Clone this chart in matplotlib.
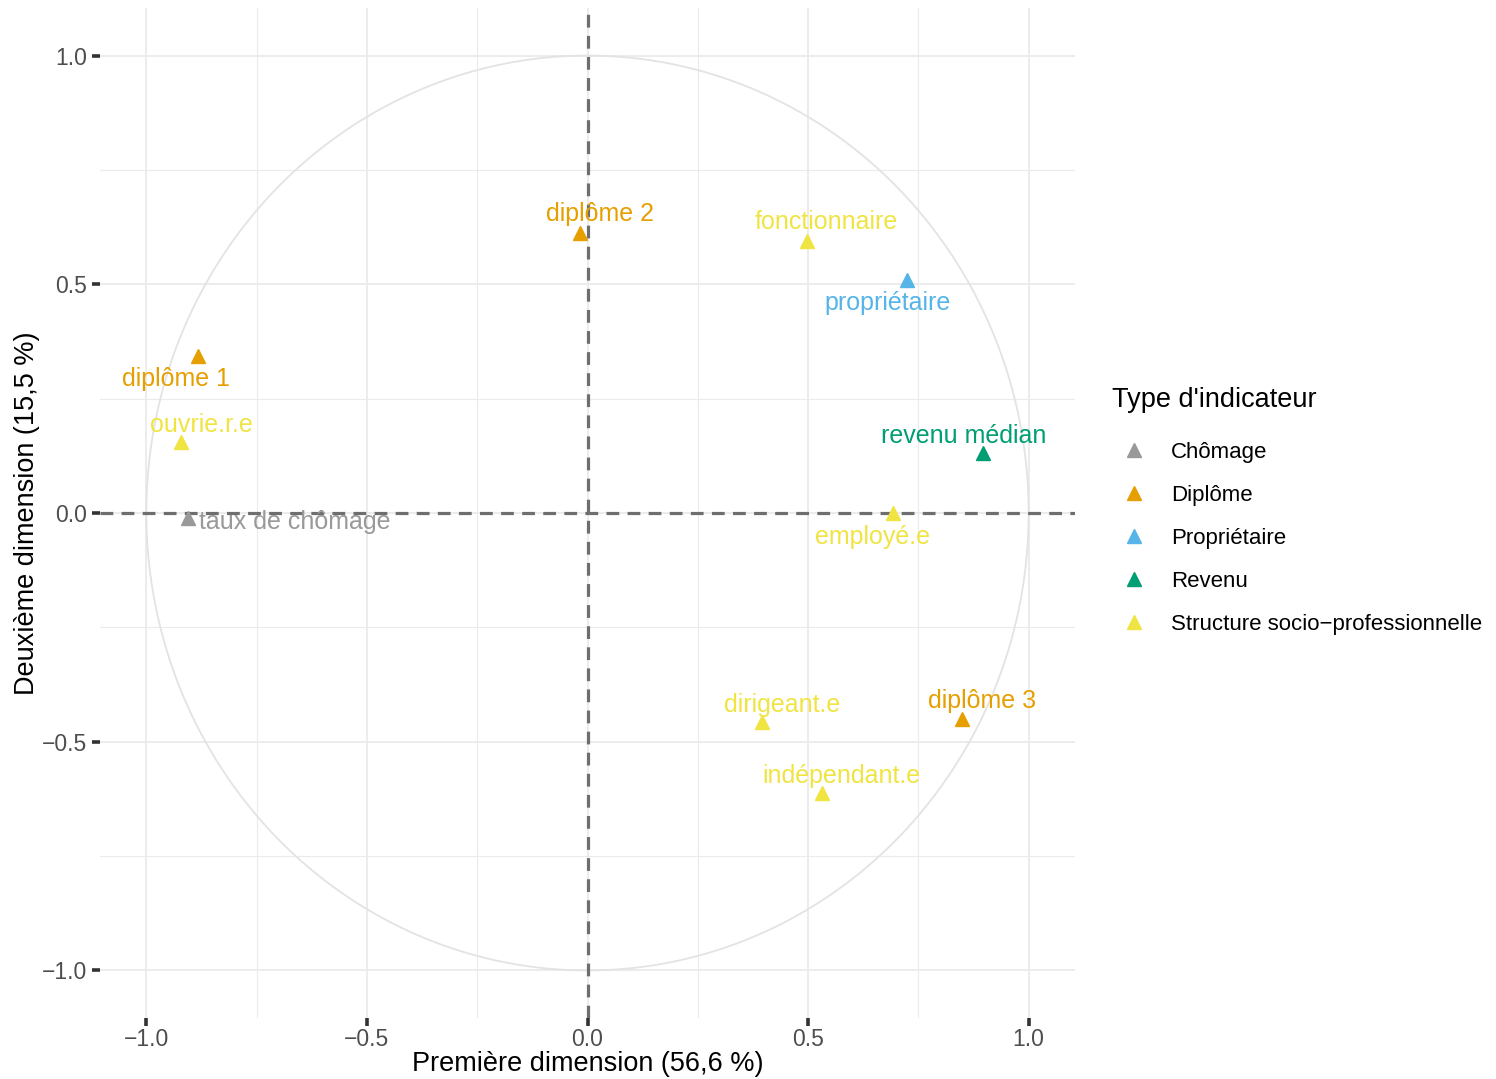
import matplotlib
matplotlib.use("Agg")
import matplotlib.pyplot as plt
import numpy as np
from matplotlib.lines import Line2D
from matplotlib.transforms import offset_copy

plt.rcParams['font.family'] = ['Liberation Sans', 'DejaVu Sans']

# Data
labels = ["diplôme 2", "fonctionnaire", "propriétaire", "diplôme 1", "ouvrie.r.e",
          "revenu médian", "taux de chômage", "employé.e", "dirigeant.e",
          "diplôme 3", "indépendant.e"]
dim1 = [-0.018, 0.497, 0.724, -0.883, -0.922, 0.897, -0.906, 0.692, 0.395, 0.849, 0.531]
dim2 = [0.612, 0.595, 0.509, 0.343, 0.155, 0.131, -0.011, 0.0, -0.457, -0.450, -0.612]
types = ["Diplôme", "Structure socio-professionnelle", "Propriétaire", "Diplôme",
         "Structure socio-professionnelle", "Revenu", "Chômage",
         "Structure socio-professionnelle", "Structure socio-professionnelle",
         "Diplôme", "Structure socio-professionnelle"]
type_order = ["Chômage", "Diplôme", "Propriétaire", "Revenu", "Structure socio-professionnelle"]
legend_labels = ["Chômage", "Diplôme", "Propriétaire", "Revenu", "Structure socio\u2212professionnelle"]
tick_values = [-1.0, -0.5, 0.0, 0.5, 1.0]
tick_labels = ["\u22121.0", "\u22120.5", "0.0", "0.5", "1.0"]

colors = {"Chômage": "#999999", "Diplôme": "#E69F00", "Propriétaire": "#56B4E9",
          "Revenu": "#009E73", "Structure socio-professionnelle": "#F0E442"}

# label offsets in pixels (dx, dy downward positive), horizontal alignment
label_offsets = [(20, -19, 'center'), (19, -19, 'center'), (-19, 23, 'center'),
                 (-22, 23, 'center'), (21, -17, 'center'), (-20, -17, 'center'),
                 (11, 4, 'left'), (-20, 24, 'center'), (20, -17, 'center'),
                 (20, -18, 'center'), (20, -17, 'center')]

W, H = 1496, 1079
fig = plt.figure(figsize=(W / 100, H / 100), dpi=100)
ax = fig.add_axes([100 / W, 1 - 1018 / H, (1075 - 100) / W, (1018 - 8) / H])
ax.set_xlim(-1.105, 1.105)
ax.set_ylim(-1.104, 1.104)

for s in ax.spines.values():
    s.set_visible(False)

minor = [-0.75, -0.25, 0.25, 0.75]
ax.set_xticks(tick_values)
ax.set_yticks(tick_values)
ax.set_xticks(minor, minor=True)
ax.set_yticks(minor, minor=True)
ax.set_xticklabels(tick_labels)
ax.set_yticklabels(tick_labels)
ax.grid(True, which='major', color='#EBEBEB', linewidth=1.3, zorder=0)
ax.grid(True, which='minor', color='#EBEBEB', linewidth=0.8, zorder=0)
ax.tick_params(which='major', length=6, width=2.6, color='#333333',
               labelsize=16.5, labelcolor='#4D4D4D')
ax.tick_params(axis='x', which='major', pad=1.5)
ax.tick_params(axis='y', which='major', pad=3)
ax.tick_params(which='minor', length=0)
ax.set_axisbelow(True)

# circle
t = np.linspace(0, 2 * np.pi, 400)
ax.plot(np.cos(t), np.sin(t), color='#E3E3E3', linewidth=1.3, zorder=1)

ax.axhline(0, color='#6E6E6E', linestyle=(0, (4, 2.6)), linewidth=2.3, zorder=2)
ax.axvline(0, color='#6E6E6E', linestyle=(0, (4, 2.6)), linewidth=2.3, zorder=2)

for x, y, lab, ty, (dx, dy, ha) in zip(dim1, dim2, labels, types, label_offsets):
    c = colors[ty]
    ax.plot(x, y, marker='^', markersize=10, color=c, linestyle='none', zorder=3)
    tr = offset_copy(ax.transData, fig=fig, x=dx, y=-dy, units='dots')
    ax.text(x, y, lab, transform=tr, color=c, fontsize=18, ha=ha, va='center', zorder=4)

ax.set_xlabel("Première dimension (56,6 %)", fontsize=19.5, labelpad=0)
ax.set_ylabel("Deuxième dimension (15,5 %)", fontsize=19.5, labelpad=1.5)

handles = [Line2D([], [], marker='^', markersize=10, color=colors[t_], linestyle='none')
           for t_ in type_order]
leg = fig.legend(handles, legend_labels, title="Type d'indicateur",
                 loc='upper left', bbox_to_anchor=(1112 / W, 1 - 387 / H),
                 frameon=False, fontsize=16, title_fontsize=19.5,
                 labelspacing=0.99, handletextpad=0.67, borderpad=0.0,
                 handlelength=2.0, borderaxespad=0.0)
leg._legend_box.align = "left"
leg._legend_box.sep = 21

fig.savefig("out.png", dpi=100)
